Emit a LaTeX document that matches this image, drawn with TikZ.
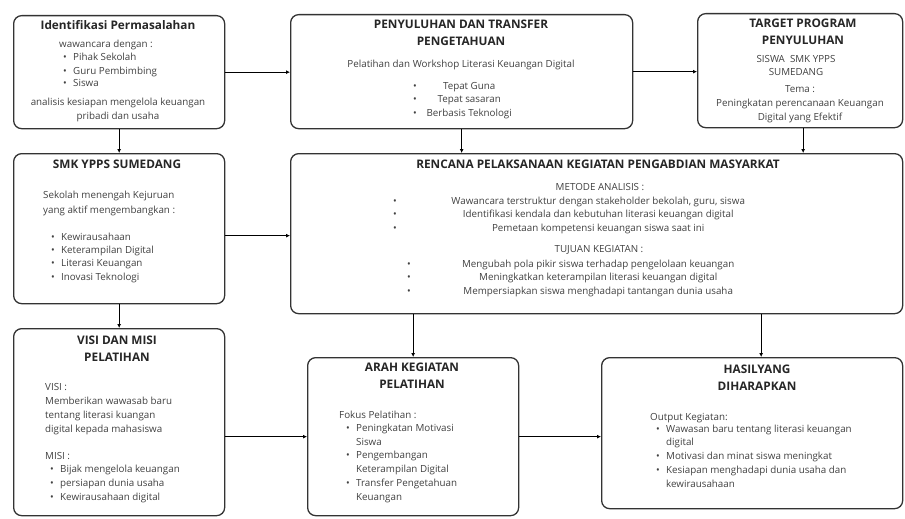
\documentclass[tikz,border=0pt]{standalone}
\usepackage{fontspec}
\setmainfont{Open Sans}
\usepackage{tikz}
\usetikzlibrary{arrows.meta}
\tikzset{
    flow-box/.style = {draw=black!80, line width=1.3pt, rectangle, rounded corners=8pt, anchor=north west, inner sep=0pt},
    flow-box-title/.style = {font=\fontsize{11.8}{16.5}\selectfont\bfseries, align=center, anchor=base, text=black!85, inner sep=0pt},
    flow-text/.style = {font=\fontsize{9.8}{13.7}\selectfont, text=black!75, anchor=base, inner sep=0pt},
    flow-arrow/.style = {line width=1.2pt, -{Latex[length=4pt,width=4pt]}},
}
% multi-line nodes sit on the baseline of their last line
\newcommand{\bul}[1]{\makebox[10pt][l]{\textbullet}#1}
\newcommand{\cnt}[1]{\makebox[10pt]{}#1}

\begin{document}
\begin{tikzpicture}[x=1pt, y=-1pt]
\useasboundingbox (0,0) rectangle (905,519);

% top row
\node[flow-box, minimum width=211pt, minimum height=113pt] (ident) at (13,15) {};
\node[flow-box-title] at (118,29.3) {Identifikasi Permasalahan};
\node[flow-text] at (106,48) {wawancara dengan :};
\node[flow-text, anchor=base west, align=left, font=\fontsize{9.8}{13}\selectfont] at (63,87) {\bul{Pihak Sekolah}\\\bul{Guru Pembimbing}\\\bul{Siswa}};
\node[flow-text, align=center] at (118,119) {analisis kesiapan mengelola keuangan\\pribadi dan usaha};

\node[flow-box, minimum width=342pt, minimum height=114pt] (pen) at (290,14) {};
\node[flow-box-title] at (461,45.3) {PENYULUHAN DAN TRANSFER\\PENGETAHUAN};
\node[flow-text] at (461,67) {Pelatihan dan Workshop Literasi Keuangan Digital};
\node[flow-text, anchor=base west, align=left, font=\fontsize{9.8}{13.5}\selectfont] at (413,116)
    {\makebox[14pt][l]{\textbullet}\makebox[84pt]{Tepat Guna}\\
     \makebox[14pt][l]{\textbullet}\makebox[84pt]{Tepat sasaran}\\
     \makebox[14pt][l]{\textbullet}\makebox[84pt]{Berbasis Teknologi}};

\node[flow-box, minimum width=205pt, minimum height=114pt] (target) at (697,13) {};
\node[flow-box-title] at (803,44.3) {TARGET PROGRAM\\PENYULUHAN};
\node[flow-text, align=center] at (796,76) {SISWA\ \ SMK YPPS\\SUMEDANG};
\node[flow-text, align=center] at (800,120) {Tema :\\Peningkatan perencanaan Keuangan\\Digital yang Efektif};

% middle row
\node[flow-box, minimum width=211pt, minimum height=150pt] (smk) at (13,153) {};
\node[flow-box-title] at (117,168.3) {SMK YPPS SUMEDANG};
\node[flow-text, anchor=base west, align=left, font=\fontsize{9.8}{15}\selectfont] at (43,213) {Sekolah menengah Kejuruan\\yang aktif mengembangkan :};
\node[flow-text, anchor=base west, align=left, font=\fontsize{9.8}{13.3}\selectfont] at (51,280)
    {\bul{Kewirausahaan}\\\bul{Keterampilan Digital}\\\bul{Literasi Keuangan}\\\bul{Inovasi Teknologi}};

\node[flow-box, minimum width=612pt, minimum height=160pt] (plan) at (290,153) {};
\node[flow-box-title] at (598,168.3) {RENCANA PELAKSANAAN KEGIATAN PENGABDIAN MASYARKAT};
\node[flow-text] at (600,190) {METODE ANALISIS :};
\node[flow-text, anchor=base west, align=left, font=\fontsize{9.8}{13.5}\selectfont] at (393,231)
    {\makebox[12pt][l]{\textbullet}\makebox[386pt]{Wawancara terstruktur dengan stakeholder bekolah, guru, siswa}\\
     \makebox[12pt][l]{\textbullet}\makebox[386pt]{Identifikasi kendala dan kebutuhan literasi keuangan digital}\\
     \makebox[12pt][l]{\textbullet}\makebox[386pt]{Pemetaan kompetensi keuangan siswa saat ini}};
\node[flow-text] at (599,252) {TUJUAN KEGIATAN :};
\node[flow-text, anchor=base west, align=left, font=\fontsize{9.8}{13.5}\selectfont] at (407,294)
    {\makebox[12pt][l]{\textbullet}\makebox[358pt]{Mengubah pola pikir siswa terhadap pengelolaan keuangan}\\
     \makebox[12pt][l]{\textbullet}\makebox[358pt]{Meningkatkan keterampilan literasi keuangan digital}\\
     \makebox[12pt][l]{\textbullet}\makebox[358pt]{Mempersiapkan siswa menghadapi tantangan dunia usaha}};

% bottom row
\node[flow-box, minimum width=211pt, minimum height=187pt] (visi) at (13,328) {};
\node[flow-box-title] at (117,361.3) {VISI DAN MISI\\PELATIHAN};
\node[flow-text, anchor=base west, align=left] at (45,432) {VISI :\\Memberikan wawasab baru\\tentang literasi kuangan\\digital kepada mahasiswa};
\node[flow-text, anchor=base west] at (45,459) {MISI :};
\node[flow-text, anchor=base west, align=left, font=\fontsize{9.8}{14}\selectfont] at (50,500)
    {\bul{Bijak mengelola keuangan}\\\bul{persiapan dunia usaha}\\\bul{Kewirausahaan digital}};

\node[flow-box, minimum width=211pt, minimum height=158pt] (arah) at (307,357) {};
\node[flow-box-title] at (412,388.3) {ARAH KEGIATAN\\PELATIHAN};
\node[flow-text, anchor=base west] at (339,418) {Fokus Pelatihan :};
\node[flow-text, anchor=base west, align=left] at (346,500)
    {\bul{Peningkatan Motivasi}\\\cnt{Siswa}\\\bul{Pengembangan}\\\cnt{Keterampilan Digital}\\\bul{Transfer Pengetahuan}\\\cnt{Keuangan}};

\node[flow-box, minimum width=301pt, minimum height=151pt] (hasil) at (601,357) {};
\node[flow-box-title] at (757,390.3) {HASILYANG\\DIHARAPKAN};
\node[flow-text, anchor=base west] at (650,420) {Output Kegiatan:};
\node[flow-text, anchor=base west, align=left] at (656,487)
    {\bul{Wawasan baru tentang literasi keuangan}\\\cnt{digital}\\\bul{Motivasi dan minat siswa meningkat}\\\bul{Kesiapan menghadapi dunia usaha dan}\\\cnt{kewirausahaan}};

% connectors
\draw[flow-arrow] (ident.east) -- (ident.east -| pen.west);
\draw[flow-arrow] (pen.east) -- (pen.east -| target.west);
\draw[flow-arrow] (ident.south) -- (smk.north);
\draw[flow-arrow] (pen.south) -- (pen.south |- plan.north);
\draw[flow-arrow] ([xshift=3pt]target.south) -- ([xshift=3pt]target.south |- plan.north);
\draw[flow-arrow] ([yshift=-7pt]smk.east) -- ([yshift=-7pt]smk.east -| plan.west);
\draw[flow-arrow] (smk.south) -- (visi.north);
\draw[flow-arrow] (arah.north |- plan.south) -- (arah.north);
\draw[flow-arrow] ([xshift=9pt]hasil.north |- plan.south) -- ([xshift=9pt]hasil.north);
\draw[flow-arrow] (visi.east |- arah.west) -- (arah.west);
\draw[flow-arrow] (arah.east) -- (arah.east -| hasil.west);
\end{tikzpicture}
\end{document}
